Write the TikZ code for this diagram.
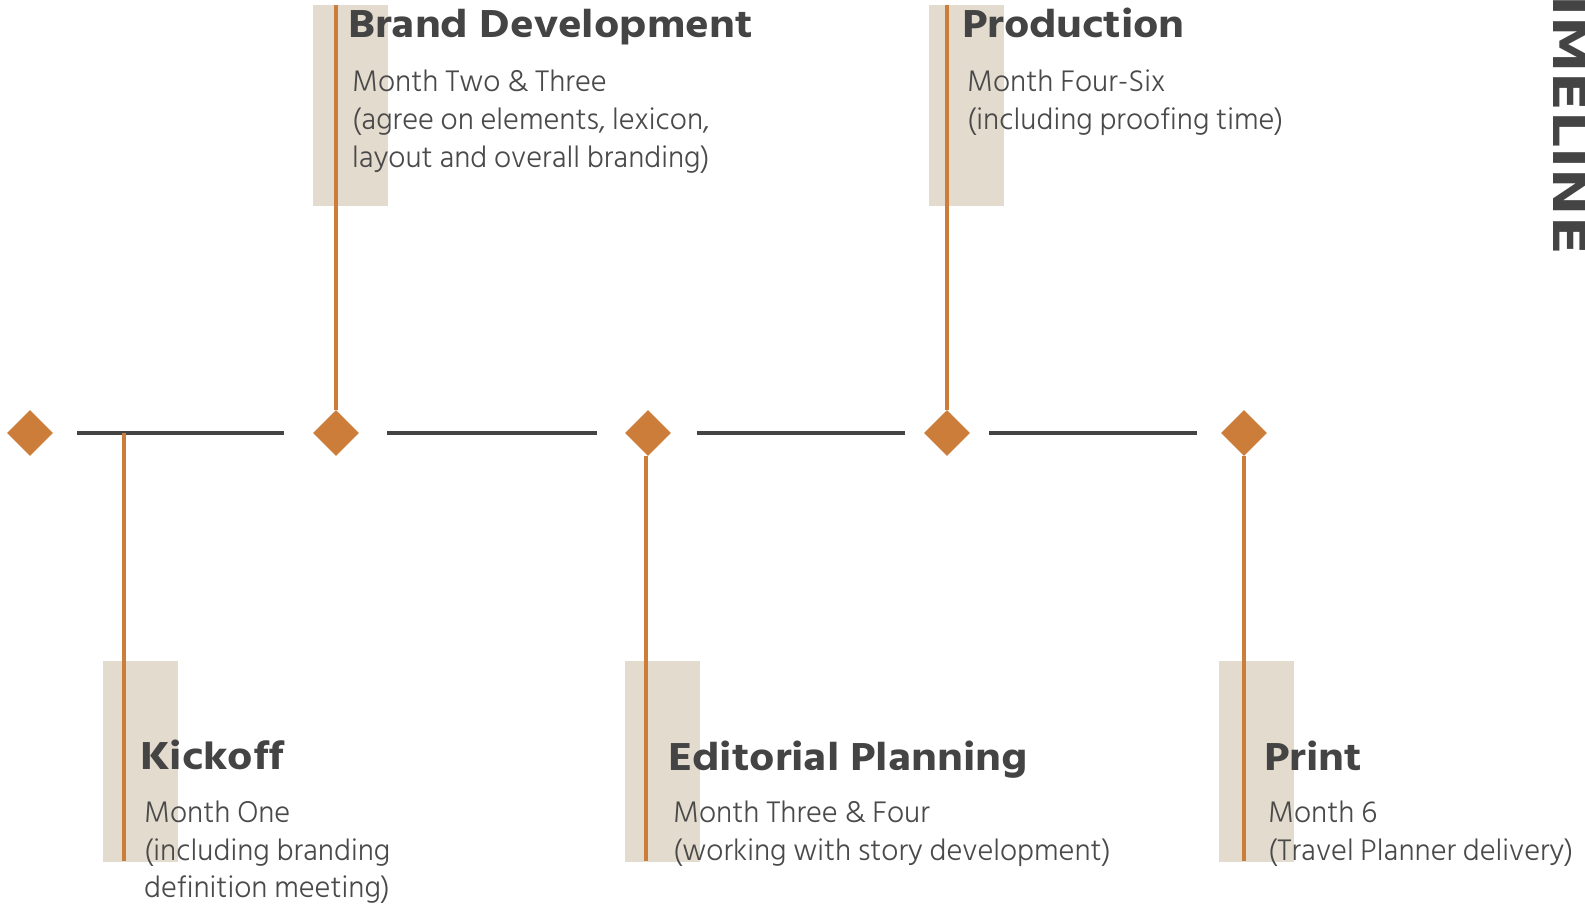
\documentclass[tikz,border=0pt]{standalone}
\usepackage{fontspec}
\setmainfont{Hind Siliguri}
\newfontfamily\lightfont{Hind Siliguri Light}
\newfontfamily\headfont{Hind Siliguri}[UprightFont=* Bold,FakeStretch=1.12]
\newfontfamily\bannerfont{DejaVu Sans}[UprightFont=* Bold,FakeStretch=1.26]
\usetikzlibrary{shapes.geometric}
\definecolor{ochre}{HTML}{CD7D3A}
\definecolor{sand}{HTML}{E3DBCE}
\definecolor{ink}{HTML}{444444}
\definecolor{bodyink}{HTML}{4A4A4A}
\begin{document}
\begin{tikzpicture}[x=1pt,y=-1pt,
  mark diamond/.style={diamond,fill=ochre,minimum width=46pt,minimum height=46pt,inner sep=0pt},
  band/.style={fill=sand,inner sep=0pt,minimum width=75pt,minimum height=201pt},
  stem/.style={ochre,line width=3.6pt},
  rail/.style={ink,line width=4pt},
  title/.style={anchor=base west,inner sep=0pt,text=ink,font=\headfont\fontsize{40}{44}\selectfont},
  sub/.style={anchor=base west,inner sep=0pt,text=bodyink,font=\lightfont\fontsize{30.5}{36}\selectfont}]
\useasboundingbox (0,0) rectangle (1585,905);
\clip (0,0) rectangle (1585,905);

% shaded bands behind each stem
\node[band] (bandB) at (350.5,105.5) {};
\node[band] (bandP) at (966.5,105.5) {};
\node[band] (bandK) at (140.5,761) {};
\node[band] (bandE) at (662.5,761) {};
\node[band] (bandT) at (1256.5,761) {};

% milestones on the axis
\node[mark diamond] (d1) at (30,433) {};
\node[mark diamond] (d2) at (336,433) {};
\node[mark diamond] (d3) at (648,433) {};
\node[mark diamond] (d4) at (947,433) {};
\node[mark diamond] (d5) at (1244,433) {};

% axis segments between milestones
\draw[rail,shorten <=24pt,shorten >=29pt] (d1.east) -- (d2.west);
\draw[rail,shorten <=28pt,shorten >=28pt] (d2.east) -- (d3.west);
\draw[rail,shorten <=26pt,shorten >=19pt] (d3.east) -- (d4.west);
\draw[rail,shorten <=19pt,shorten >=24pt] (d4.east) -- (d5.west);

% stems
\coordinate (kTop) at (124,433);
\draw[stem] (kTop) -- (124,861);
\draw[stem] (336,5) -- (d2.north);
\draw[stem] (d3.south) ++(-2,0) -- (646,861);
\draw[stem] (947,5) -- (d4.north);
\draw[stem] (d5.south) -- (1244,861);

% upper labels
\node[title] (tB) at (348,37) {Brand Development};
\node[sub] (sB1) at (352,91) {Month Two \& Three};
\node[sub] (sB2) at (352,129) {(agree on elements, lexicon,};
\node[sub] (sB3) at (352,167) {layout and overall branding)};

\node[title] (tP) at (962,37) {Production};
\node[sub] (sP1) at (967,91) {Month Four-Six};
\node[sub] (sP2) at (967,129) {(including proofing time)};

% lower labels
\node[title] (tK) at (140,769) {Kickoff};
\node[sub] (sK1) at (144,822) {Month One};
\node[sub] (sK2) at (144,860) {(including branding};
\node[sub] (sK3) at (144,897) {definition meeting)};

\node[title] (tE) at (668,770) {Editorial Planning};
\node[sub] (sE1) at (673,822) {Month Three \& Four};
\node[sub] (sE2) at (673,860) {(working with story development)};

\node[title] (tT) at (1264,770) {Print};
\node[sub] (sT1) at (1268,822) {Month 6};
\node[sub] (sT2) at (1268,860) {(Travel Planner delivery)};

% vertical banner
\node[rotate=-90,anchor=base east,inner sep=0pt,text=ink,font=\bannerfont\fontsize{45}{45}\selectfont] (banner) at (1553,255) {TIMELINE};
\end{tikzpicture}
\end{document}
